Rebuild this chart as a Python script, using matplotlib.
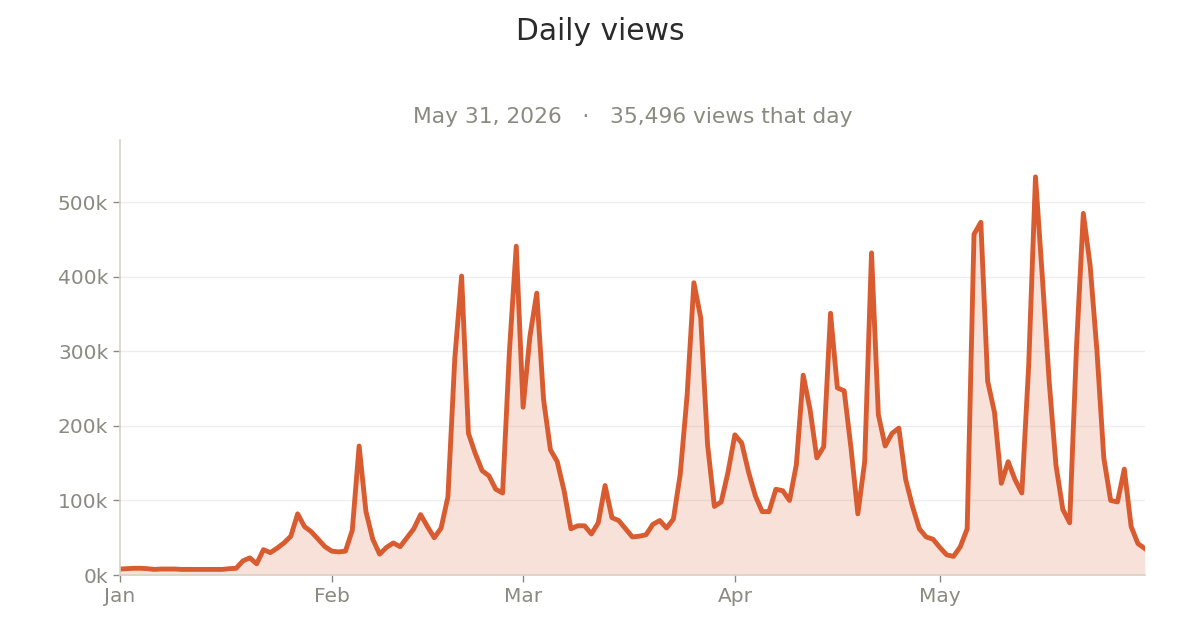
import pandas as pd
import matplotlib.pyplot as plt
import matplotlib.dates as mdates
from matplotlib.ticker import FuncFormatter

# Daily views, Jan 1 - May 31 2026 (values in thousands)
jan = [8, 8.5, 9, 9, 8.5, 7.5, 8, 8, 8, 7.5, 7.5, 7.5, 7.5, 7.5, 7.5, 7.5, 8.5,
       9, 19, 23, 15, 34, 30, 36, 43, 52, 82, 65, 58, 48, 38]
feb = [32, 31, 32, 60, 173, 85, 48, 28, 37, 43, 38, 50, 62, 81, 65, 50, 63,
       105, 290, 401, 190, 163, 140, 133, 115, 110, 300, 441]
mar = [225, 320, 378, 235, 168, 152, 113, 62, 66, 66, 55, 70, 120, 77, 73,
       62, 51, 52, 54, 68, 73, 63, 75, 135, 240, 392, 345, 175, 92, 98, 138]
apr = [188, 177, 138, 106, 85, 85, 115, 113, 100, 148, 268, 222, 157, 172,
       351, 251, 247, 170, 82, 152, 432, 215, 173, 190, 197, 128, 92, 62, 51, 48]
may = [37, 27, 25, 38, 62, 457, 473, 260, 218, 123, 152, 128, 110, 280, 534,
       400, 260, 147, 88, 70, 305, 485, 415, 300, 157, 100, 98, 142, 65, 42, 35.496]

views = [v * 1000 for v in jan + feb + mar + apr + may]
dates = pd.date_range("2026-01-01", periods=len(views), freq="D")

line_color = "#d95b30"
text_gray = "#8a8a80"
spine_color = "#d6d2c4"

fig = plt.figure(figsize=(12, 6.3), dpi=100)
ax = fig.add_axes([0.1, 0.0873, 0.854, 0.69])

ax.fill_between(dates, views, color=line_color, alpha=0.18, linewidth=0)
ax.plot(dates, views, color=line_color, linewidth=3.5, solid_joinstyle="round")

ax.set_xlim(dates[0], dates[-1])
ax.set_ylim(0, 583000)
ax.set_yticks([0, 100000, 200000, 300000, 400000, 500000])
ax.yaxis.set_major_formatter(FuncFormatter(lambda v, p: f"{int(v / 1000)}k"))
ax.xaxis.set_major_locator(mdates.MonthLocator())
ax.xaxis.set_major_formatter(mdates.DateFormatter("%b"))

ax.grid(axis="y", color="#eeeeee", linewidth=1)
ax.set_axisbelow(True)
for s in ["top", "right"]:
    ax.spines[s].set_visible(False)
for s in ["left", "bottom"]:
    ax.spines[s].set_color(spine_color)
    ax.spines[s].set_linewidth(1.2)
ax.tick_params(colors=text_gray, labelsize=14.5, length=5, width=1)

fig.text(0.5, 0.95, "Daily views", ha="center", va="center",
         fontsize=21.4, color="#2b2b2b")
# subtitle sits centred over the plot area
ax.text(0.5, 1.054, "May 31, 2026   \u00b7   35,496 views that day",
        transform=ax.transAxes, ha="center", va="center",
        fontsize=15.7, color=text_gray)

fig.savefig("out.png", dpi=100, facecolor="white")
